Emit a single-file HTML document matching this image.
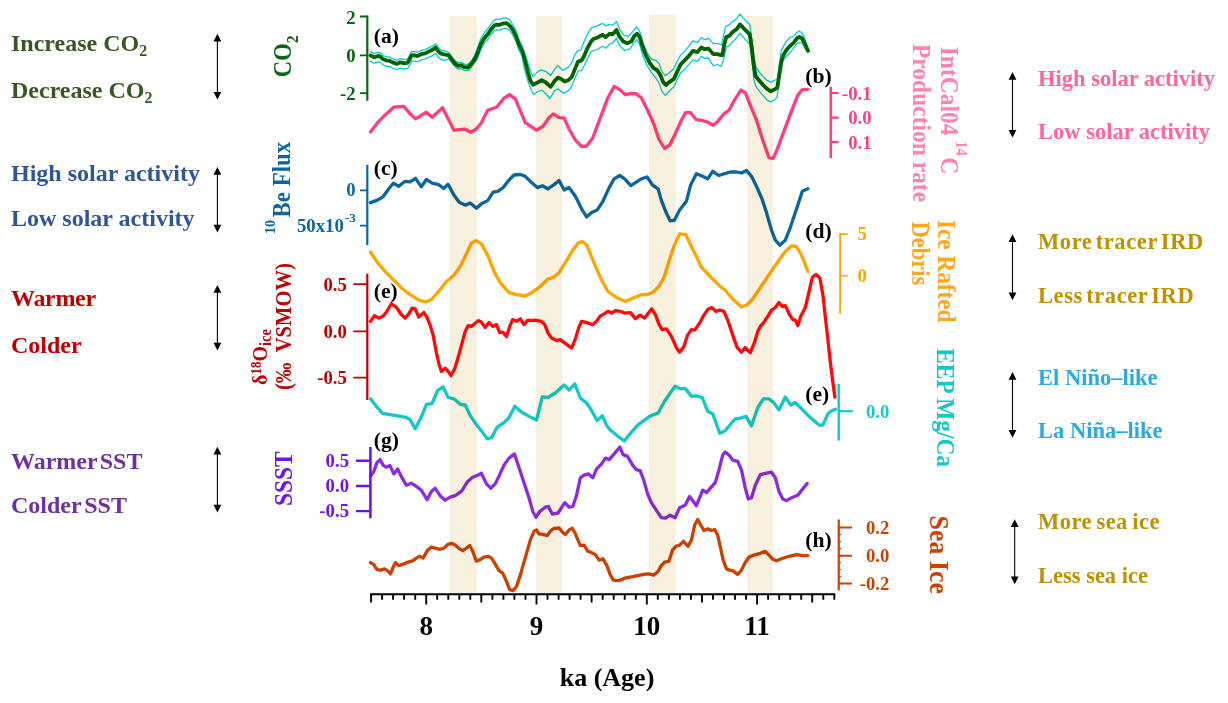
<!DOCTYPE html>
<html lang="en"><head><meta charset="utf-8"><title>Holocene climate proxies</title>
<style>html,body{margin:0;padding:0;background:#fff}body{width:1228px;height:703px;overflow:hidden}svg{display:block}text{font-family:"Liberation Serif","DejaVu Serif",serif;font-weight:bold}.c{fill:none;stroke-linejoin:round;stroke-linecap:round}.ax{fill:none;stroke-linecap:butt}.band{fill:#f7f0de;mix-blend-mode:multiply}</style></head><body>
<svg width="1228" height="703" viewBox="0 0 1228 703">
<rect width="1228" height="703" fill="#fff"/>
<path class="c" d="M370.5,51.7 L374.2,53.6 L378.1,52.3 L380.0,52.6 L383.3,55.6 L386.6,56.9 L389.2,56.9 L393.1,58.9 L397.1,60.2 L400.3,58.6 L404.2,59.5 L407.5,59.1 L410.1,54.9 L411.4,51.7 L414.7,51.7 L417.3,52.3 L421.3,50.4 L425.2,49.7 L429.1,47.7 L433.0,45.8 L435.6,43.8 L438.3,47.7 L440.9,50.0 L444.8,50.8 L448.7,52.4 L452.0,56.9 L455.3,60.9 L457.9,62.8 L461.2,62.4 L464.4,64.1 L467.7,64.5 L471.0,61.5 L474.2,56.9 L477.5,48.0 L480.8,38.8 L484.1,33.0 L488.0,28.4 L491.2,23.8 L494.5,19.9 L497.1,19.2 L499.8,19.5 L502.4,18.2 L506.3,17.7 L509.6,19.9 L512.8,24.5 L516.1,31.0 L518.7,38.8 L522.0,45.4 L523.9,50.8 L527.8,62.6 L531.1,73.0 L533.1,76.3 L537.0,72.4 L540.9,69.8 L546.2,71.7 L550.7,75.6 L554.7,69.1 L557.9,65.8 L563.2,70.4 L568.4,67.1 L571.7,62.6 L574.9,54.7 L577.6,50.8 L580.8,50.1 L584.1,41.6 L588.0,33.1 L591.3,27.9 L597.2,25.9 L602.4,23.3 L605.7,25.9 L609.6,24.4 L612.9,25.3 L616.5,21.4 L619.4,28.5 L623.4,35.1 L628.6,36.4 L632.5,31.8 L636.4,27.0 L639.7,31.2 L643.0,42.9 L646.9,52.1 L650.8,58.6 L656.1,60.6 L659.3,63.9 L661.9,71.7 L665.2,75.6 L669.1,73.0 L673.9,68.5 L677.2,61.3 L680.5,55.4 L684.4,51.4 L688.3,46.9 L692.9,41.0 L697.5,42.3 L701.4,37.7 L704.7,39.7 L708.6,38.4 L713.2,43.6 L717.1,43.3 L721.7,44.9 L723.6,35.1 L725.6,26.6 L729.5,24.6 L732.8,21.4 L736.7,18.7 L740.0,14.2 L743.3,18.1 L747.2,22.0 L749.8,24.6 L751.8,39.0 L753.7,54.7 L755.7,66.5 L759.0,71.7 L762.9,76.3 L766.8,80.2 L770.7,82.2 L774.7,80.2 L777.3,79.6 L779.2,65.2 L781.2,50.8 L783.2,46.9 L786.4,41.0 L789.7,37.7 L793.6,36.4 L796.9,32.5 L799.5,31.2 L802.1,32.7 L804.8,38.4 L808.0,50.1" stroke="#00ced1" stroke-width="1.3"/>
<path class="c" d="M370.5,61.2 L374.2,63.1 L378.1,61.8 L380.0,62.1 L383.3,65.1 L386.6,66.4 L389.2,66.4 L393.1,68.4 L397.1,69.7 L400.3,68.1 L404.2,69.0 L407.5,68.6 L410.1,64.4 L411.4,61.2 L414.7,61.2 L417.3,61.8 L421.3,59.9 L425.2,59.2 L429.1,57.2 L433.0,55.3 L435.6,53.3 L438.3,57.2 L440.9,59.5 L444.8,60.3 L448.7,58.6 L452.0,63.1 L455.3,67.1 L457.9,69.0 L461.2,68.6 L464.4,70.3 L467.7,70.7 L471.0,67.7 L474.2,63.1 L477.5,58.6 L480.8,49.4 L484.1,43.6 L488.0,39.0 L491.2,34.4 L494.5,30.5 L497.1,29.8 L499.8,30.1 L502.4,28.8 L506.3,28.3 L509.6,30.5 L512.8,35.1 L516.1,41.6 L518.7,49.4 L522.0,56.0 L523.9,66.5 L527.8,80.9 L531.1,90.0 L533.7,94.6 L537.0,92.0 L541.6,90.0 L546.2,94.0 L549.8,98.5 L554.7,90.7 L557.9,88.7 L563.2,93.3 L568.4,90.7 L571.7,86.1 L574.9,78.3 L578.2,71.1 L581.5,70.4 L584.1,65.8 L587.4,58.6 L591.3,51.4 L597.2,49.5 L602.4,46.2 L605.7,48.2 L609.6,44.2 L612.9,42.9 L616.5,38.0 L619.4,45.6 L624.7,50.5 L629.9,48.8 L633.8,42.9 L636.4,39.7 L639.7,44.2 L643.0,56.0 L646.9,65.2 L650.8,71.7 L656.1,78.3 L659.3,83.5 L661.9,91.3 L665.2,95.3 L669.1,91.3 L673.9,86.8 L677.2,79.6 L680.5,73.0 L684.4,69.8 L688.3,65.2 L692.9,59.9 L697.5,61.3 L701.4,56.3 L704.7,58.4 L708.6,58.0 L713.2,65.8 L717.1,64.5 L721.0,66.5 L723.6,59.9 L726.3,46.9 L729.5,45.6 L732.8,41.6 L736.7,37.7 L740.0,33.1 L743.3,37.1 L747.2,41.6 L749.8,44.2 L751.8,57.3 L753.7,78.3 L755.7,86.1 L759.0,90.7 L762.9,95.3 L766.8,99.8 L770.7,101.8 L774.7,99.8 L777.0,97.2 L778.6,86.1 L780.5,71.7 L782.5,61.3 L785.8,56.7 L789.7,52.8 L793.6,48.2 L796.9,43.6 L799.5,42.3 L802.1,42.9 L804.8,48.2 L808.0,52.1" stroke="#00ced1" stroke-width="1.3"/>
<path class="c" d="M370.5,55.4 L374.2,57.3 L378.1,56.0 L380.0,56.3 L383.3,59.3 L386.6,60.6 L389.2,60.6 L393.1,62.6 L397.1,63.9 L400.3,62.3 L404.2,63.2 L407.5,62.8 L410.1,58.6 L411.4,55.4 L414.7,55.4 L417.3,56.0 L421.3,54.1 L425.2,53.4 L429.1,51.4 L433.0,49.5 L435.6,47.5 L438.3,51.4 L440.9,53.7 L444.8,54.5 L448.7,55.4 L452.0,59.9 L455.3,63.9 L457.9,65.8 L461.2,65.4 L464.4,67.1 L467.7,67.5 L471.0,64.5 L474.2,59.9 L477.5,53.4 L480.8,44.2 L484.1,38.4 L488.0,33.8 L491.2,29.2 L494.5,25.3 L497.1,24.6 L499.8,24.9 L502.4,23.6 L506.3,23.1 L509.6,25.3 L512.8,29.9 L516.1,36.4 L518.7,44.2 L522.0,50.8 L522.6,52.1 L525.2,61.3 L527.8,71.7 L530.5,80.9 L533.1,84.8 L537.0,82.8 L541.6,80.2 L545.5,82.2 L550.7,86.8 L554.7,80.9 L557.9,77.6 L561.2,78.9 L564.5,81.5 L568.4,80.2 L571.7,77.0 L574.9,69.1 L578.2,61.3 L581.5,60.6 L584.1,56.0 L587.4,48.2 L590.6,42.3 L593.3,39.0 L597.2,37.7 L602.4,34.8 L605.7,37.1 L609.6,33.8 L612.9,34.0 L616.5,29.9 L619.4,36.4 L623.4,41.6 L627.3,43.2 L631.2,41.6 L634.5,35.7 L637.1,33.8 L639.7,37.1 L642.3,45.6 L645.6,54.7 L649.5,62.6 L653.4,67.8 L657.4,70.4 L660.6,75.6 L663.3,82.2 L665.9,85.1 L669.1,82.2 L673.9,78.9 L677.2,71.7 L680.5,64.5 L684.4,60.6 L688.3,56.7 L692.9,50.8 L697.5,52.1 L701.4,47.5 L704.7,49.2 L708.6,48.6 L713.2,54.1 L717.1,54.1 L722.3,55.4 L724.3,44.2 L726.3,37.1 L729.5,35.7 L732.8,31.8 L736.7,29.2 L740.0,24.4 L743.3,27.9 L747.2,31.8 L749.8,34.4 L751.8,48.2 L753.7,65.2 L755.7,76.3 L759.0,80.2 L762.9,84.8 L766.8,88.7 L770.7,91.3 L774.7,89.4 L777.3,87.4 L779.2,75.6 L781.2,62.6 L783.2,55.4 L786.4,50.1 L789.7,46.2 L793.6,42.9 L796.9,38.4 L799.5,36.8 L802.1,38.4 L804.8,43.6 L808.0,50.8" stroke="#006400" stroke-width="3.8"/>
<path class="c" d="M370.5,132.0 L377.5,122.7 L385.0,115.2 L393.8,107.2 L403.8,106.4 L410.1,113.9 L415.6,118.9 L426.4,112.2 L432.1,117.2 L442.6,107.7 L453.9,130.2 L465.2,129.2 L470.7,132.2 L476.4,129.0 L481.4,122.7 L487.7,110.2 L496.5,107.2 L504.0,98.2 L509.5,94.7 L515.3,98.9 L525.3,122.7 L536.5,130.2 L542.8,126.5 L549.1,117.7 L553.3,113.9 L559.1,117.7 L564.1,118.2 L569.1,129.0 L575.4,140.2 L581.6,146.5 L586.6,146.0 L592.9,137.7 L600.4,117.7 L607.9,97.7 L614.2,86.4 L620.4,90.1 L625.4,94.7 L631.3,93.4 L636.3,93.9 L641.3,97.7 L647.6,110.2 L653.8,124.0 L658.8,139.0 L664.6,148.5 L669.6,145.2 L675.1,134.0 L681.4,120.2 L685.6,112.7 L690.6,112.7 L696.4,119.7 L702.7,120.7 L707.7,122.2 L713.2,125.2 L717.7,121.4 L724.0,113.9 L729.0,110.2 L735.2,98.9 L741.0,90.1 L745.2,92.7 L750.2,105.2 L756.5,120.2 L762.8,140.2 L769.0,157.8 L773.3,158.3 L777.8,147.7 L785.3,127.7 L792.8,107.7 L797.8,95.2 L802.3,89.6 L807.8,89.4" stroke="#ff3d81" stroke-width="3.3"/>
<path class="c" d="M370.5,202.6 L377.5,200.1 L383.0,196.8 L388.8,188.8 L393.3,183.3 L398.8,186.3 L405.1,181.3 L410.1,181.8 L415.6,178.3 L421.3,186.8 L426.4,179.5 L432.6,183.3 L438.1,184.3 L443.9,188.3 L448.1,184.3 L453.9,195.1 L459.4,202.6 L465.2,205.1 L470.2,203.1 L476.4,208.3 L481.4,203.8 L487.7,200.6 L493.2,192.1 L497.7,191.3 L503.2,187.6 L509.0,180.0 L514.0,175.0 L520.3,174.5 L525.3,176.3 L531.5,182.6 L537.3,187.6 L542.3,185.8 L547.8,188.8 L554.1,184.6 L559.1,180.5 L564.1,190.1 L569.1,187.6 L575.4,196.3 L581.6,208.8 L586.6,216.9 L591.6,212.6 L597.1,210.1 L602.9,201.3 L609.2,187.6 L614.2,178.8 L619.7,175.5 L624.7,178.8 L630.8,185.6 L636.3,182.1 L641.3,178.8 L647.1,177.0 L652.6,185.1 L658.1,188.8 L661.3,200.1 L665.6,211.3 L670.1,220.9 L674.6,220.1 L679.6,210.1 L686.4,201.3 L690.6,185.1 L696.4,173.8 L702.7,176.3 L707.7,178.8 L712.7,171.3 L718.9,175.5 L724.0,173.8 L730.2,172.0 L736.5,172.0 L741.5,173.0 L746.5,170.5 L751.5,176.3 L756.5,186.3 L761.5,197.6 L766.5,212.6 L771.5,230.1 L775.3,240.1 L779.8,245.2 L785.3,240.1 L790.3,227.6 L796.6,208.8 L802.3,191.3 L807.8,188.8" stroke="#0a669e" stroke-width="3.3"/>
<path class="c" d="M370.5,252.2 L377.5,262.7 L385.0,271.4 L392.6,279.0 L401.3,287.7 L410.1,294.7 L418.8,300.2 L425.6,302.0 L431.4,299.5 L437.6,292.7 L446.4,281.5 L453.9,275.2 L460.2,266.4 L466.4,253.9 L471.4,243.2 L475.9,240.6 L481.4,243.9 L487.7,255.2 L494.0,271.4 L500.2,282.7 L509.0,292.7 L516.5,294.7 L525.3,296.0 L531.5,292.7 L540.3,286.5 L547.8,279.0 L552.8,277.7 L559.1,272.7 L565.3,262.7 L572.8,250.2 L577.9,243.2 L581.6,241.4 L586.6,244.7 L592.9,260.2 L600.4,277.7 L607.9,291.5 L616.7,297.7 L625.4,301.5 L633.8,297.7 L641.3,294.7 L647.6,294.5 L653.1,292.2 L658.8,286.5 L663.9,277.7 L668.9,261.4 L673.9,246.4 L679.6,233.9 L685.6,234.6 L691.4,246.4 L696.4,256.4 L701.4,267.2 L710.2,276.5 L718.9,285.2 L725.2,290.2 L732.7,299.0 L741.5,307.0 L746.5,305.3 L752.7,299.0 L762.8,284.0 L775.3,265.2 L785.3,251.4 L791.6,245.9 L796.1,246.4 L800.3,252.7 L804.1,261.4 L807.8,271.4" stroke="#ffa500" stroke-width="3.3"/>
<path class="c" d="M370.5,398.8 L376.3,406.3 L382.5,413.3 L390.0,414.6 L397.6,415.8 L405.1,417.1 L410.1,419.6 L415.1,428.8 L421.3,417.1 L426.4,404.3 L432.1,403.5 L437.6,390.5 L443.1,387.0 L448.1,397.5 L453.9,398.8 L460.2,404.3 L465.2,405.0 L470.2,415.6 L476.4,424.6 L482.7,432.6 L487.2,438.8 L491.5,437.6 L497.2,427.1 L504.0,422.6 L509.0,417.6 L514.8,406.3 L520.3,411.3 L527.8,415.6 L536.5,420.1 L542.3,396.8 L547.8,397.5 L555.3,393.0 L564.1,385.0 L569.1,390.0 L574.8,383.8 L580.4,398.0 L586.6,403.0 L591.6,410.5 L597.1,420.6 L602.4,415.8 L606.7,425.6 L610.4,430.1 L618.8,437.1 L624.5,440.8 L630.0,433.8 L637.6,425.1 L648.8,416.8 L653.8,414.6 L658.1,413.1 L664.6,401.3 L671.4,391.3 L675.1,386.3 L680.1,388.8 L685.1,388.3 L691.4,396.3 L696.4,395.8 L702.2,397.5 L707.7,411.3 L712.7,413.8 L719.7,433.3 L725.2,430.8 L735.2,418.8 L740.2,418.1 L746.0,416.3 L751.5,425.8 L757.8,407.5 L763.3,398.8 L769.0,398.8 L774.0,403.0 L779.0,410.0 L785.3,397.0 L790.8,405.0 L795.3,402.5 L801.6,408.8 L810.3,417.6 L819.1,425.1 L822.9,425.1 L827.9,413.8 L831.6,410.8 L835.4,409.3" stroke="#14c8c8" stroke-width="3.3"/>
<path class="c" d="M370.5,321.3 L374.5,315.6 L378.8,318.1 L383.0,316.3 L387.0,311.3 L391.3,303.8 L395.1,306.3 L397.6,308.8 L400.6,313.8 L405.1,318.1 L408.8,313.8 L412.1,308.1 L415.1,308.8 L418.8,317.1 L423.9,312.6 L427.1,317.6 L430.1,325.1 L433.1,335.1 L436.4,352.7 L438.9,363.9 L441.4,371.4 L445.1,368.2 L448.1,371.4 L450.9,375.7 L454.7,368.9 L458.4,356.4 L462.2,342.6 L465.2,331.4 L468.2,325.6 L471.4,326.4 L474.7,323.9 L478.2,320.6 L481.4,322.1 L485.2,327.6 L489.0,322.6 L492.7,326.4 L496.5,324.6 L499.7,332.6 L502.7,332.1 L506.5,336.4 L509.7,326.4 L512.7,319.6 L516.5,321.3 L520.3,318.8 L524.0,324.6 L527.8,320.1 L531.5,320.6 L535.3,320.1 L541.5,321.3 L544.8,324.6 L547.8,332.6 L551.6,338.1 L556.6,340.6 L560.3,339.6 L564.1,342.6 L571.6,348.1 L575.4,338.9 L579.1,326.4 L581.6,321.3 L586.6,322.6 L592.9,324.6 L596.6,321.3 L599.9,316.3 L604.1,313.8 L607.9,311.3 L611.7,313.1 L615.4,310.6 L620.4,311.3 L624.2,313.1 L630.4,312.6 L635.4,318.8 L640.0,315.1 L640.1,315.1 L644.6,318.1 L648.8,312.6 L651.8,308.8 L655.6,315.1 L658.8,323.9 L662.1,329.6 L666.4,328.9 L671.4,336.4 L676.4,347.6 L679.6,352.2 L683.9,346.4 L687.6,335.1 L691.4,329.6 L694.7,330.1 L700.2,322.1 L703.9,315.1 L707.7,309.6 L711.9,307.6 L715.7,311.3 L719.7,310.1 L724.0,311.3 L727.7,320.1 L732.7,335.1 L737.2,347.6 L741.5,352.2 L745.2,347.6 L750.2,352.7 L754.0,343.9 L757.8,331.4 L760.3,326.4 L764.0,322.1 L767.8,316.3 L771.5,310.1 L775.3,307.6 L779.0,302.6 L782.3,306.3 L785.3,305.6 L789.1,313.8 L792.8,319.6 L795.3,320.1 L797.8,325.6 L800.8,316.3 L805.3,307.6 L809.1,291.3 L812.3,277.5 L815.9,274.5 L819.9,278.0 L822.9,295.1 L825.4,317.6 L827.9,340.1 L830.4,362.7 L832.9,382.7 L834.9,397.2" stroke="#ff0a0a" stroke-width="3.3"/>
<path class="c" d="M370.5,476.4 L373.8,471.4 L377.0,462.6 L380.0,459.6 L383.0,465.1 L386.3,467.1 L390.0,465.6 L393.8,473.9 L397.6,468.9 L401.3,476.4 L406.3,485.2 L411.3,483.2 L416.3,486.4 L421.3,490.2 L427.1,499.7 L431.4,491.4 L435.1,488.2 L440.1,495.7 L445.1,500.2 L450.1,497.2 L455.2,495.7 L461.4,491.4 L467.7,481.4 L472.7,477.2 L477.7,475.2 L481.4,473.2 L486.5,483.9 L490.7,488.2 L495.2,483.9 L499.7,474.7 L504.0,465.1 L509.0,458.1 L514.5,453.9 L519.0,467.6 L524.0,482.7 L529.0,497.7 L532.8,511.5 L536.0,517.2 L539.8,511.5 L545.3,507.2 L548.3,506.5 L552.3,514.0 L557.8,513.2 L561.6,507.7 L564.8,502.7 L569.1,507.2 L572.8,506.5 L576.6,495.2 L580.4,477.7 L584.1,475.2 L588.4,473.9 L592.9,477.7 L596.6,468.9 L601.6,463.9 L605.4,458.1 L609.2,459.6 L614.2,453.9 L619.9,447.1 L623.0,454.6 L627.5,456.4 L632.6,465.1 L636.3,469.6 L640.1,470.6 L643.8,480.2 L647.6,493.9 L651.3,502.7 L656.3,510.2 L661.3,517.7 L665.6,518.2 L670.1,515.2 L675.1,517.7 L679.6,507.7 L685.1,505.2 L689.6,496.4 L696.4,505.7 L702.7,490.2 L706.4,492.7 L715.2,482.7 L718.9,470.1 L722.7,455.1 L725.2,451.9 L729.0,455.1 L732.7,460.1 L737.7,461.4 L741.5,470.1 L745.2,487.7 L748.2,498.9 L751.5,497.7 L755.3,485.2 L760.3,474.7 L766.5,473.2 L771.5,472.2 L775.3,477.7 L779.0,491.4 L782.8,498.9 L786.6,500.7 L791.6,497.7 L797.8,495.2 L802.8,488.9 L807.1,483.4" stroke="#8a2be2" stroke-width="3.3"/>
<path class="c" d="M370.5,562.6 L373.8,564.6 L377.0,569.6 L380.5,570.1 L384.5,568.9 L387.5,570.6 L390.5,573.9 L393.8,565.6 L395.6,562.6 L398.8,565.6 L403.8,563.9 L408.8,561.9 L412.6,560.8 L416.3,558.1 L419.6,556.3 L423.1,558.1 L427.6,550.1 L431.4,547.1 L435.1,548.1 L440.1,549.3 L443.9,548.1 L447.6,544.6 L451.4,543.3 L455.2,545.1 L458.9,548.3 L462.7,550.6 L466.4,548.1 L469.7,545.6 L472.7,551.3 L476.4,561.3 L480.2,559.6 L484.0,557.1 L488.2,556.3 L491.5,558.1 L495.2,563.9 L499.0,570.6 L502.7,573.1 L506.5,581.4 L509.7,589.6 L513.2,590.6 L516.5,586.4 L520.3,575.1 L525.3,557.6 L530.3,540.1 L534.0,531.3 L536.5,530.0 L539.0,533.8 L542.8,534.3 L547.3,535.6 L550.3,531.3 L554.1,528.3 L559.1,528.0 L562.3,532.1 L565.3,534.6 L569.1,530.0 L572.3,528.3 L575.4,533.8 L579.1,542.6 L580.4,545.6 L584.1,545.1 L587.9,551.3 L591.6,552.6 L595.4,554.6 L599.1,560.1 L602.9,558.8 L606.7,565.1 L610.4,575.1 L613.4,580.1 L617.9,580.6 L618.8,580.6 L625.0,578.1 L631.3,576.9 L637.6,575.6 L643.8,574.4 L648.8,573.9 L653.8,575.1 L658.1,571.4 L661.3,565.6 L664.6,562.1 L668.9,561.3 L672.6,550.1 L675.9,546.3 L679.6,545.1 L683.4,541.3 L688.1,546.3 L691.4,540.1 L694.7,525.0 L697.7,519.5 L700.7,525.0 L703.9,530.5 L707.7,528.8 L711.4,530.5 L714.7,529.5 L717.7,535.1 L720.2,546.3 L723.2,560.1 L726.5,568.9 L729.7,570.1 L732.7,570.6 L737.7,574.4 L741.5,570.1 L745.2,562.6 L749.0,557.1 L754.0,555.1 L760.3,553.3 L765.3,551.3 L769.0,555.1 L772.8,559.3 L776.5,560.8 L781.5,558.8 L789.1,556.3 L796.6,554.6 L802.8,555.6 L807.8,555.6" stroke="#cc4100" stroke-width="3.3"/>
<rect class="band" x="450" y="16" width="26.9" height="577.6"/>
<rect class="band" x="536.1" y="16" width="25.8" height="577.6"/>
<rect class="band" x="649.1" y="14.8" width="26.9" height="578.8"/>
<rect class="band" x="747.2" y="16" width="25.8" height="577.6"/>
<g class="ax" stroke="#0a6414"><path d="M367.3,15.4 V100.7" stroke-width="2.2"/><path d="M367.3,16.5 H360 M367.3,55.3 H360 M367.3,93.1 H360" stroke-width="1.8"/></g>
<g class="ax" stroke="#0a669e"><path d="M367.3,165 V245" stroke-width="2.2"/><path d="M367.3,190.3 H360 M367.3,225.6 H360" stroke-width="1.8"/></g>
<g class="ax" stroke="#c00000"><path d="M367.3,273.7 V400" stroke-width="2.2"/><path d="M367.3,284.2 H353.3 M367.3,331.3 H353.3 M367.3,377.7 H353.3" stroke-width="1.8"/></g>
<g class="ax" stroke="#6f12ec"><path d="M370.4,447 V518.3" stroke-width="2.6"/><path d="M370.4,460.7 H356 M370.4,486 H356 M370.4,511.1 H356" stroke-width="2.4"/></g>
<g class="ax" stroke="#ff3d81"><path d="M830.8,86.8 V158" stroke-width="2.6"/><path d="M830.8,93 H838.7 M830.8,117.6 H838.7 M830.8,142.2 H838.7" stroke-width="2.2"/></g>
<g class="ax" stroke="#ffa500"><path d="M840.1,233.3 V313.75" stroke-width="1.8"/><path d="M840.1,234.1 H847.6 M840.1,275.8 H847.6" stroke-width="1.6"/></g>
<g class="ax" stroke="#14c8c8"><path d="M838.7,383.7 V440.6" stroke-width="2.4"/><path d="M838.7,411.2 H852.8" stroke-width="2.2"/></g>
<g class="ax" stroke="#cc4100"><path d="M838.75,519.5 V590.4" stroke-width="2.2"/><path d="M838.75,527.6 H852 M838.75,555.7 H852 M838.75,583.6 H852" stroke-width="2.0"/></g>
<path class="ax" stroke="#cc4100" stroke-width="1.2" d="M838.75,534.7 H841 M838.75,541.7 H841 M838.75,548.7 H841 M838.75,562.7 H841 M838.75,569.7 H841 M838.75,576.7 H841"/>
<g class="ax" stroke="#000"><path d="M370,594.3 H835.2" stroke-width="1.9"/><path d="M371.1,594.3 V602.4 M382.1,594.3 V599.8 M393.1,594.3 V599.8 M404.1,594.3 V599.8 M415.2,594.3 V599.8 M426.2,594.3 V604.4 M437.2,594.3 V599.8 M448.3,594.3 V599.8 M459.3,594.3 V599.8 M470.3,594.3 V599.8 M481.3,594.3 V602.4 M492.4,594.3 V599.8 M503.4,594.3 V599.8 M514.4,594.3 V599.8 M525.5,594.3 V599.8 M536.5,594.3 V604.4 M547.5,594.3 V599.8 M558.6,594.3 V599.8 M569.6,594.3 V599.8 M580.6,594.3 V599.8 M591.6,594.3 V602.4 M602.7,594.3 V599.8 M613.7,594.3 V599.8 M624.7,594.3 V599.8 M635.8,594.3 V599.8 M646.8,594.3 V604.4 M657.8,594.3 V599.8 M668.9,594.3 V599.8 M679.9,594.3 V599.8 M690.9,594.3 V599.8 M702.0,594.3 V602.4 M713.0,594.3 V599.8 M724.0,594.3 V599.8 M735.0,594.3 V599.8 M746.1,594.3 V599.8 M757.1,594.3 V604.4 M768.1,594.3 V599.8 M779.2,594.3 V599.8 M790.2,594.3 V599.8 M801.2,594.3 V599.8 M812.2,594.3 V602.4 M823.3,594.3 V599.8 M834.3,594.3 V599.8" stroke-width="1.9"/></g>
<text x="426.2" y="634.8" font-size="27" text-anchor="middle">8</text>
<text x="536.5" y="634.8" font-size="27" text-anchor="middle">9</text>
<text x="646.8" y="634.8" font-size="27" text-anchor="middle">10</text>
<text x="757.1" y="634.8" font-size="27" text-anchor="middle">11</text>
<text x="607" y="685.5" font-size="26" text-anchor="middle">ka (Age)</text>
<text transform="translate(355.6,23.5) scale(1.04,1)" font-size="18" fill="#0a6414" text-anchor="end">2</text>
<text transform="translate(355.6,61.8) scale(1.04,1)" font-size="18" fill="#0a6414" text-anchor="end">0</text>
<text transform="translate(355.6,99.6) scale(1.04,1)" font-size="18" fill="#0a6414" text-anchor="end">-2</text>
<text transform="translate(355.6,196.4) scale(1.04,1)" font-size="18" fill="#0a669e" text-anchor="end">0</text>
<text transform="translate(343.8,232.4) scale(1.04,1)" font-size="18" fill="#0a669e" text-anchor="end">50x10</text>
<text transform="translate(355.8,221.5) scale(1.04,1)" font-size="12.5" fill="#0a669e" text-anchor="end">-3</text>
<text transform="translate(346.8,290.7) scale(1.04,1)" font-size="18" fill="#c00000" text-anchor="end">0.5</text>
<text transform="translate(346.8,337.5) scale(1.04,1)" font-size="18" fill="#c00000" text-anchor="end">0.0</text>
<text transform="translate(346.8,384.3) scale(1.04,1)" font-size="18" fill="#c00000" text-anchor="end">-0.5</text>
<text transform="translate(349,466.6) scale(1.04,1)" font-size="18" fill="#6f12ec" text-anchor="end">0.5</text>
<text transform="translate(349,492.1) scale(1.04,1)" font-size="18" fill="#6f12ec" text-anchor="end">0.0</text>
<text transform="translate(349,517.4) scale(1.04,1)" font-size="18" fill="#6f12ec" text-anchor="end">-0.5</text>
<text transform="translate(871.6,100) scale(1.04,1)" font-size="18" fill="#ff3d81" text-anchor="end">-0.1</text>
<text transform="translate(871.6,124.4) scale(1.04,1)" font-size="18" fill="#ff3d81" text-anchor="end">0.0</text>
<text transform="translate(871.6,149) scale(1.04,1)" font-size="18" fill="#ff3d81" text-anchor="end">0.1</text>
<text transform="translate(866.8,240) scale(1.04,1)" font-size="18" fill="#ffa500" text-anchor="end">5</text>
<text transform="translate(866.8,282.2) scale(1.04,1)" font-size="18" fill="#ffa500" text-anchor="end">0</text>
<text transform="translate(889.4,417.7) scale(1.04,1)" font-size="18" fill="#14c8c8" text-anchor="end">0.0</text>
<text transform="translate(889.4,533.8) scale(1.04,1)" font-size="18" fill="#cc4100" text-anchor="end">0.2</text>
<text transform="translate(889.4,561.9) scale(1.04,1)" font-size="18" fill="#cc4100" text-anchor="end">0.0</text>
<text transform="translate(889.4,589.6) scale(1.04,1)" font-size="18" fill="#cc4100" text-anchor="end">-0.2</text>
<text x="373.8" y="42.5" font-size="21.6" fill="#000">(a)</text>
<text x="373.8" y="175" font-size="21.6" fill="#000">(c)</text>
<text x="373.8" y="298.4" font-size="21.6" fill="#000">(e)</text>
<text x="373.8" y="447" font-size="21.6" fill="#000">(g)</text>
<text x="805.2" y="83.3" font-size="21.6" fill="#000">(b)</text>
<text x="805.2" y="237.8" font-size="21.6" fill="#000">(d)</text>
<text x="805.2" y="401.2" font-size="21.6" fill="#000">(e)</text>
<text x="805.2" y="547.4" font-size="21.6" fill="#000">(h)</text>
<g fill="#000"><path d="M217.4,40.5 V92.89999999999999" stroke="#000" stroke-width="1.1" fill="none"/><path d="M217.4,33.8 l3.9,7.7 h-7.8 z M217.4,99.6 l3.9,-7.7 h-7.8 z"/></g>
<g fill="#000"><path d="M217.4,173.7 V225.8" stroke="#000" stroke-width="1.1" fill="none"/><path d="M217.4,167 l3.9,7.7 h-7.8 z M217.4,232.5 l3.9,-7.7 h-7.8 z"/></g>
<g fill="#000"><path d="M217.4,291.7 V343.8" stroke="#000" stroke-width="1.1" fill="none"/><path d="M217.4,285 l3.9,7.7 h-7.8 z M217.4,350.5 l3.9,-7.7 h-7.8 z"/></g>
<g fill="#000"><path d="M217.4,453.45 V505.8" stroke="#000" stroke-width="1.1" fill="none"/><path d="M217.4,446.75 l3.9,7.7 h-7.8 z M217.4,512.5 l3.9,-7.7 h-7.8 z"/></g>
<g fill="#000"><path d="M1012.5,78.7 V130.9" stroke="#000" stroke-width="1.1" fill="none"/><path d="M1012.5,72 l3.9,7.7 h-7.8 z M1012.5,137.6 l3.9,-7.7 h-7.8 z"/></g>
<g fill="#000"><path d="M1012.5,240.89999999999998 V293.5" stroke="#000" stroke-width="1.1" fill="none"/><path d="M1012.5,234.2 l3.9,7.7 h-7.8 z M1012.5,300.2 l3.9,-7.7 h-7.8 z"/></g>
<g fill="#000"><path d="M1012.5,378.7 V431.0" stroke="#000" stroke-width="1.1" fill="none"/><path d="M1012.5,372 l3.9,7.7 h-7.8 z M1012.5,437.7 l3.9,-7.7 h-7.8 z"/></g>
<g fill="#000"><path d="M1014.7,526.0 V577.5" stroke="#000" stroke-width="1.1" fill="none"/><path d="M1014.7,519.3 l3.9,7.7 h-7.8 z M1014.7,584.2 l3.9,-7.7 h-7.8 z"/></g>
<text x="11" y="51" font-size="24" fill="#385723">Increase CO<tspan font-size="16" dy="4.5">2</tspan></text>
<text x="11" y="98" font-size="24" fill="#385723">Decrease CO<tspan font-size="16" dy="4.5">2</tspan></text>
<text x="11" y="181.2" font-size="24" fill="#2f5597">High solar activity</text>
<text x="11" y="226.2" font-size="24" fill="#2f5597">Low solar activity</text>
<text x="11" y="306.2" font-size="24" fill="#c00000" style="letter-spacing:-0.3px;word-spacing:0px">Warmer</text>
<text x="11" y="353" font-size="24" fill="#c00000">Colder</text>
<text x="11" y="468.8" font-size="24" fill="#7030a0" style="letter-spacing:0px;word-spacing:-3.5px">Warmer SST</text>
<text x="11" y="513" font-size="24" fill="#7030a0" style="letter-spacing:0px;word-spacing:-3px">Colder SST</text>
<text x="1038" y="85.5" font-size="22.5" fill="#ff6699">High solar activity</text>
<text x="1038" y="139" font-size="22.5" fill="#ff6699">Low solar activity</text>
<text x="1038" y="249" font-size="22.5" fill="#bf9000" style="letter-spacing:0.6px;word-spacing:-3px">More tracer IRD</text>
<text x="1038" y="303" font-size="22.5" fill="#bf9000" style="letter-spacing:0.6px;word-spacing:-3px">Less tracer IRD</text>
<text x="1038" y="384.8" font-size="22.5" fill="#29abe2">El Niño–like</text>
<text x="1038" y="438.3" font-size="22.5" fill="#29abe2">La Niña–like</text>
<text x="1038" y="529" font-size="22.5" fill="#bf9000" style="letter-spacing:0.45px;word-spacing:-1.5px">More sea ice</text>
<text x="1038" y="583" font-size="22.5" fill="#bf9000">Less sea ice</text>
<text transform="translate(290.6,77.2) rotate(-90) scale(1,1.1)" font-size="22.7" fill="#0a6414" xml:space="preserve">CO<tspan font-size="15.6" dy="6.5">2</tspan></text>
<text transform="translate(289.9,233.9) rotate(-90) scale(1,1.1)" font-size="22.9" fill="#0a669e" xml:space="preserve"><tspan font-size="14" dy="-13.1">10</tspan><tspan dy="13.1" dx="2.5">Be Flux</tspan></text>
<text transform="translate(267,385) rotate(-90) scale(1,1.1)" font-size="20" fill="#c00000" xml:space="preserve">δ<tspan font-size="13" dy="-5.6">18</tspan><tspan dy="5.6">O</tspan><tspan font-size="14.5" dy="3.6">ice</tspan></text>
<text transform="translate(291,390) rotate(-90) scale(1,1.1)" font-size="20.6" fill="#c00000" xml:space="preserve">(‰  VSMOW)</text>
<text transform="translate(292.1,505.9) rotate(-90) scale(1,1.1)" font-size="23.3" fill="#6f12ec" xml:space="preserve">SSST</text>
<text transform="translate(940.6,46.7) rotate(90) scale(1,1.1)" font-size="23.5" fill="#ff82ab" xml:space="preserve">IntCal04 <tspan font-size="14.5" dy="-14">14</tspan><tspan dy="14" dx="1.5">C</tspan></text>
<text transform="translate(913,44) rotate(90) scale(1,1.1)" font-size="23.5" fill="#ff82ab" xml:space="preserve">Production rate</text>
<text transform="translate(938.4,220) rotate(90) scale(1,1.1)" font-size="23.2" fill="#ffa61c" xml:space="preserve">Ice Rafted</text>
<text transform="translate(912,221.4) rotate(90) scale(1,1.1)" font-size="22.6" fill="#ffa61c" xml:space="preserve">Debris</text>
<text transform="translate(936.9,348.2) rotate(90) scale(1,1.1)" font-size="23.4" fill="#14c8c8" xml:space="preserve">EEP Mg/Ca</text>
<text transform="translate(930.4,515.6) rotate(90) scale(1,1.08)" font-size="25.9" fill="#cc4100" xml:space="preserve">Sea Ice</text>
</svg></body></html>
